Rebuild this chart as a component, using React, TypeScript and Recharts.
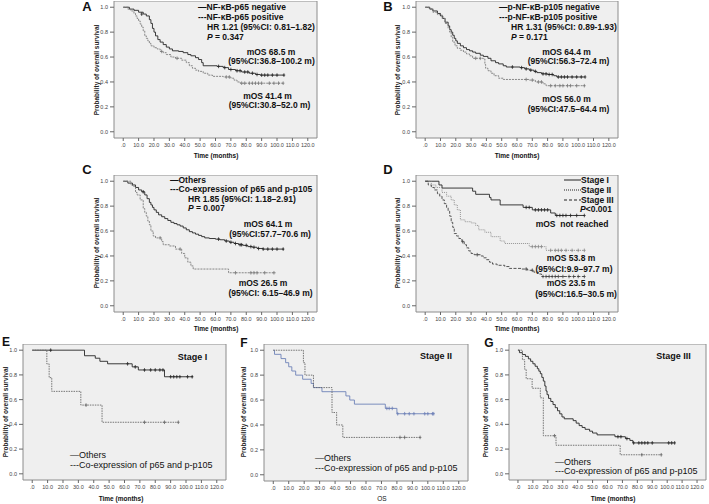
import React from 'react'
import { ComposedChart, Line, XAxis, YAxis, ReferenceArea } from 'recharts'

type Pt = [number, number]

const xTicks = [0, 10, 20, 30, 40, 50, 60, 70, 80, 90, 100, 110, 120]
const yTicks = [0, 0.2, 0.4, 0.6, 0.8, 1]

// A: NF-kB-p65 negative / positive
const aNeg: Pt[] = [[0, 1], [4, 0.985], [7, 0.975], [10, 0.96], [13, 0.945], [15, 0.93], [17, 0.9], [18, 0.87], [19, 0.83], [20, 0.8], [21, 0.77], [22.5, 0.74], [24, 0.72], [26, 0.7], [28, 0.68], [30, 0.665], [32, 0.65], [36, 0.645], [39, 0.635], [42, 0.62], [44, 0.61], [47, 0.595], [49, 0.58], [51, 0.555], [52, 0.53], [61, 0.525], [65, 0.515], [68.5, 0.5], [73, 0.49], [77, 0.48], [82, 0.47], [86, 0.46], [89, 0.455], [104.7, 0.455]]
const aNegCens: Pt[] = [[12, 0.945], [62, 0.525], [66, 0.515], [70, 0.5], [74, 0.49], [76, 0.49], [79, 0.48], [81, 0.48], [84, 0.47], [87, 0.46], [90, 0.455], [92, 0.455], [94, 0.455], [97, 0.455], [100, 0.455], [104.5, 0.455]]
const aPos: Pt[] = [[0, 1], [3, 0.985], [5, 0.97], [7, 0.95], [8, 0.93], [9, 0.91], [10, 0.89], [11, 0.865], [12, 0.84], [13, 0.81], [14, 0.77], [15, 0.75], [16, 0.73], [17, 0.71], [18, 0.69], [20, 0.675], [22, 0.665], [24, 0.645], [26, 0.635], [28, 0.62], [31, 0.6], [34, 0.59], [38, 0.575], [41, 0.555], [43, 0.53], [45, 0.51], [47, 0.495], [49, 0.485], [52, 0.47], [55, 0.455], [58, 0.445], [65, 0.44], [70, 0.43], [72, 0.415], [74, 0.4], [76, 0.39], [104.3, 0.39]]
const aPosCens: Pt[] = [[25, 0.645], [35, 0.59], [67, 0.44], [69, 0.44], [77, 0.39], [79, 0.39], [82, 0.39], [84, 0.39], [86, 0.39], [88, 0.39], [90, 0.39], [95, 0.39], [98, 0.39], [101, 0.39], [104, 0.39]]

// B: p-NF-kB-p105 negative / positive
const bNeg: Pt[] = [[0, 1], [3, 0.985], [5, 0.97], [8, 0.95], [10, 0.93], [11.5, 0.91], [13, 0.88], [15, 0.85], [16, 0.82], [17, 0.8], [18, 0.775], [19, 0.75], [20, 0.73], [21, 0.71], [23, 0.69], [25, 0.675], [27, 0.66], [29, 0.65], [31, 0.64], [33, 0.63], [36, 0.615], [38, 0.605], [41, 0.59], [43, 0.57], [46, 0.555], [48, 0.545], [51, 0.53], [53, 0.52], [62, 0.515], [65, 0.505], [68, 0.495], [71, 0.485], [73, 0.475], [76, 0.465], [80, 0.46], [84, 0.45], [86, 0.44], [104.5, 0.44]]
const bNegCens: Pt[] = [[57, 0.52], [63, 0.515], [66, 0.505], [69, 0.495], [72, 0.485], [77, 0.465], [79, 0.465], [81, 0.46], [83, 0.46], [87, 0.44], [89, 0.44], [91, 0.44], [93, 0.44], [96, 0.44], [99, 0.44], [102, 0.44], [104.5, 0.44]]
const bPos: Pt[] = [[0, 1], [2.5, 0.99], [5, 0.96], [8, 0.94], [11, 0.91], [13, 0.87], [15, 0.83], [16, 0.8], [17, 0.76], [18, 0.72], [19.5, 0.69], [21, 0.67], [23, 0.655], [25, 0.64], [27, 0.625], [29, 0.61], [31, 0.59], [38, 0.585], [39, 0.54], [39.5, 0.51], [41, 0.49], [43, 0.47], [45, 0.45], [48, 0.43], [51, 0.42], [68, 0.415], [72, 0.4], [77, 0.385], [79, 0.37], [104.5, 0.37]]
const bPosCens: Pt[] = [[33, 0.59], [36, 0.59], [66, 0.42], [70, 0.415], [74, 0.4], [76, 0.4], [82, 0.37], [85, 0.37], [88, 0.37], [90, 0.37], [93, 0.37], [95, 0.37], [99, 0.37], [104, 0.37]]

// C: others / co-expression
const cOth: Pt[] = [[0, 1], [3, 0.985], [6, 0.97], [8, 0.95], [10, 0.93], [12, 0.915], [14, 0.89], [15.5, 0.86], [17, 0.83], [18, 0.81], [19, 0.79], [20, 0.77], [21.5, 0.75], [23, 0.73], [25, 0.715], [27, 0.7], [29, 0.685], [31, 0.67], [33, 0.66], [35, 0.65], [37, 0.64], [39, 0.625], [41, 0.61], [43, 0.595], [45, 0.585], [47, 0.575], [49, 0.565], [51, 0.555], [53, 0.545], [56, 0.54], [60, 0.535], [63, 0.53], [66, 0.52], [69, 0.51], [72, 0.5], [75, 0.49], [78, 0.485], [81, 0.475], [84, 0.47], [87, 0.46], [91, 0.455], [104.5, 0.455]]
const cOthCens: Pt[] = [[13, 0.915], [62, 0.535], [67, 0.52], [70, 0.51], [73, 0.5], [76, 0.49], [77, 0.49], [80, 0.485], [83, 0.475], [85, 0.47], [88, 0.46], [91, 0.455], [94, 0.455], [97, 0.455], [100, 0.455], [104, 0.455]]
const cCo: Pt[] = [[0, 1], [5, 0.97], [6, 0.96], [8, 0.91], [9, 0.89], [11, 0.85], [13, 0.78], [14, 0.75], [15, 0.72], [16, 0.68], [17, 0.65], [18, 0.6], [19.5, 0.56], [21, 0.545], [25, 0.515], [26, 0.49], [30, 0.48], [34, 0.455], [38, 0.42], [40, 0.385], [42, 0.35], [44, 0.32], [45.5, 0.295], [68.5, 0.265], [99, 0.265]]
const cCoCens: Pt[] = [[24, 0.545], [37, 0.455], [73, 0.265], [83, 0.265], [85, 0.265], [87, 0.265], [92, 0.265], [98, 0.265]]

// D: stage I / II / III
const dI: Pt[] = [[0, 1], [9, 0.97], [11, 0.945], [31, 0.92], [33, 0.895], [42, 0.87], [43, 0.85], [49, 0.81], [64, 0.79], [70, 0.77], [82, 0.745], [85, 0.725], [104, 0.725]]
const dICens: Pt[] = [[66, 0.79], [68, 0.79], [72, 0.77], [74, 0.77], [76, 0.77], [78, 0.77], [80, 0.77], [86, 0.725], [88, 0.725], [90, 0.725], [92, 0.725], [95, 0.725], [99, 0.725], [104, 0.725]]
const dII: Pt[] = [[0, 1], [4, 0.97], [7, 0.95], [11, 0.91], [14, 0.88], [17, 0.85], [19, 0.81], [21, 0.77], [23, 0.69], [26, 0.675], [30, 0.665], [33, 0.645], [35, 0.61], [39, 0.59], [43, 0.555], [49, 0.52], [52, 0.5], [68, 0.475], [79, 0.445], [104, 0.445]]
const dIICens: Pt[] = [[70, 0.475], [72, 0.475], [74, 0.475], [76, 0.475], [82, 0.445], [85, 0.445], [87, 0.445], [89, 0.445], [92, 0.445], [96, 0.445], [100, 0.445], [104, 0.445]]
const dIII: Pt[] = [[0, 1], [2, 0.97], [4, 0.95], [6, 0.93], [8, 0.9], [9.5, 0.88], [11, 0.85], [12.5, 0.82], [14, 0.79], [15, 0.76], [16, 0.72], [17, 0.67], [18, 0.63], [19, 0.58], [20.5, 0.56], [22, 0.54], [24, 0.515], [25.5, 0.49], [27, 0.465], [28.5, 0.44], [30, 0.42], [32, 0.41], [36, 0.4], [38, 0.385], [40, 0.37], [42, 0.35], [44, 0.335], [47, 0.325], [52, 0.315], [55, 0.3], [63, 0.295], [67, 0.285], [71, 0.27], [74, 0.255], [76, 0.235], [104, 0.235]]
const dIIICens: Pt[] = [[24.5, 0.515], [34, 0.41], [66, 0.295], [70, 0.285], [77, 0.235], [79, 0.235], [81, 0.235], [83, 0.235], [85, 0.235], [87, 0.235], [90, 0.235], [94, 0.235], [97, 0.235], [100, 0.235], [104, 0.235]]

// E: stage I, others / co-expression
const eOth: Pt[] = [[0, 1], [34, 0.955], [41, 0.935], [44, 0.91], [49, 0.89], [65, 0.865], [69, 0.84], [86, 0.785], [104.5, 0.785]]
const eOthCens: Pt[] = [[12, 1], [62, 0.89], [67, 0.865], [73, 0.84], [77, 0.84], [80, 0.84], [83, 0.84], [85, 0.84], [90, 0.785], [92, 0.785], [94, 0.785], [96, 0.785], [101, 0.785], [104, 0.785]]
const eCo: Pt[] = [[0, 1], [9.5, 0.889], [11, 0.778], [12.7, 0.667], [31.6, 0.556], [45.4, 0.417], [95, 0.417]]
const eCoCens: Pt[] = [[35, 0.556], [73, 0.417], [86, 0.417], [95, 0.417]]

// F: stage II
const fOth: Pt[] = [[0, 1], [0.8, 0.967], [5, 0.933], [8, 0.9], [10, 0.867], [12, 0.833], [14.5, 0.8], [19, 0.767], [24.5, 0.733], [26, 0.7], [31.5, 0.667], [47, 0.633], [49.5, 0.6], [52.5, 0.567], [72.5, 0.533], [80, 0.49], [103.8, 0.49]]
const fOthCens: Pt[] = [[73.5, 0.533], [75, 0.533], [77, 0.533], [80.5, 0.49], [85, 0.49], [88, 0.49], [91, 0.49], [98, 0.49], [100, 0.49], [103, 0.49], [103.8, 0.49]]
const fCo: Pt[] = [[0, 1], [19.5, 0.9], [20.5, 0.8], [26, 0.7], [38, 0.5], [41, 0.4], [45, 0.3], [95, 0.3]]
const fCoCens: Pt[] = [[82, 0.3], [85, 0.3], [95, 0.3]]

// G: stage III
const gOth: Pt[] = [[0, 1], [1, 0.98], [3, 0.965], [5, 0.95], [7, 0.93], [8.5, 0.91], [10, 0.89], [11.5, 0.87], [13, 0.85], [14, 0.83], [15, 0.81], [16, 0.78], [17, 0.75], [18, 0.71], [18.8, 0.67], [19.5, 0.64], [20.5, 0.61], [22, 0.585], [23.5, 0.56], [25, 0.535], [26.5, 0.51], [28, 0.485], [29.5, 0.46], [31, 0.445], [37, 0.43], [39, 0.41], [41, 0.39], [43, 0.375], [45, 0.36], [48, 0.345], [50, 0.33], [53, 0.315], [65, 0.3], [72, 0.285], [75, 0.27], [77, 0.25], [105, 0.25]]
const gOthCens: Pt[] = [[67, 0.3], [69, 0.3], [73, 0.285], [77.5, 0.25], [81, 0.25], [83, 0.25], [85, 0.25], [87, 0.25], [90, 0.25], [101, 0.25], [103, 0.25], [105, 0.25]]
const gCo: Pt[] = [[0, 1], [3, 0.923], [4.5, 0.846], [5.5, 0.769], [9.5, 0.692], [15, 0.615], [17, 0.308], [25.5, 0.231], [68.5, 0.154], [96, 0.154]]
const gCoCens: Pt[] = [[24.5, 0.308], [83, 0.154], [96, 0.154]]

const FONT = '"Liberation Sans", Arial, sans-serif'
const YW = 16
const XH = 14
const X_DOMAIN: [number, number] = [-6, 126]
const Y_DOMAIN: [number, number] = [-0.05, 1.05]

const SOLID = '#262626'
const GREY = '#7a7a7a'

type Frame = { l: number; t: number; r: number; b: number }
type Curve = { steps: Pt[]; cens: Pt[]; color: string; dash?: string }

const rows = (pts: Pt[]) => pts.map(([t, s]) => ({ t, s }))
const fmtX = (v: number) => (v === 0 ? '.0' : v.toFixed(1))

function plusDot(color: string) {
  return (p: any) => {
    const { cx, cy, index } = p
    if (cx == null || cy == null) return <g key={index} />
    return <path key={index} d={`M${cx - 1.3},${cy}h2.6M${cx},${cy - 1.8}v3.6`} stroke={color} strokeWidth={0.8} fill="none" />
  }
}

function KmPanel({ frame, curves }: { frame: Frame; curves: Curve[] }) {
  const w = frame.r - frame.l
  const h = frame.b - frame.t
  return (
    <div style={{ position: 'absolute', left: frame.l - YW, top: frame.t }}>
      <ComposedChart width={w + YW + 2} height={h + XH} margin={{ top: 0, right: 2, bottom: 0, left: 0 }}>
        <XAxis
          type="number"
          dataKey="t"
          domain={X_DOMAIN}
          ticks={xTicks}
          interval={0}
          allowDataOverflow
          tickFormatter={fmtX}
          axisLine={false}
          tickSize={3}
          tickMargin={2}
          height={XH}
          tick={{ fontSize: 5.5, fill: '#444', fontFamily: FONT }}
          tickLine={{ stroke: '#666' }}
        />
        <YAxis
          type="number"
          domain={Y_DOMAIN}
          ticks={yTicks}
          interval={0}
          allowDataOverflow
          tickFormatter={(v: number) => v.toFixed(1)}
          axisLine={false}
          tickSize={4}
          tickMargin={2}
          width={YW}
          tick={{ fontSize: 5.5, fill: '#444', fontFamily: FONT }}
          tickLine={{ stroke: '#666' }}
        />
        <ReferenceArea x1={X_DOMAIN[0]} x2={X_DOMAIN[1]} y1={Y_DOMAIN[0]} y2={Y_DOMAIN[1]} fill="#efefef" fillOpacity={1} stroke="#8c8c8c" strokeWidth={1} />
        {curves.map((c, i) => (
          <Line
            key={'s' + i}
            data={rows(c.steps)}
            dataKey="s"
            type="stepAfter"
            stroke={c.color}
            strokeWidth={0.9}
            strokeDasharray={c.dash}
            dot={false}
            activeDot={false}
            isAnimationActive={false}
          />
        ))}
        {curves.map((c, i) => (
          <Line
            key={'c' + i}
            data={rows(c.cens)}
            dataKey="s"
            stroke="none"
            dot={plusDot(c.color)}
            activeDot={false}
            isAnimationActive={false}
          />
        ))}
      </ComposedChart>
    </div>
  )
}

function Txt({ x, y, size = 8.5, align = 'left', weight = 700, children }: any) {
  const tx = align === 'center' ? '-50%' : align === 'right' ? '-100%' : '0'
  return (
    <div style={{ position: 'absolute', left: x, top: y, transform: `translate(${tx}, -50%)`, fontSize: size, lineHeight: 1, fontWeight: weight, whiteSpace: 'nowrap', color: '#111' }}>
      {children}
    </div>
  )
}

function YTitle({ x, y }: { x: number; y: number }) {
  return (
    <div style={{ position: 'absolute', left: x, top: y, transform: 'translate(-50%, -50%) rotate(-90deg)', fontSize: 6.5, fontWeight: 700, whiteSpace: 'nowrap', color: '#222' }}>
      Probability of overall survival
    </div>
  )
}

function Sample({ x, y, dash }: { x: number; y: number; dash?: string }) {
  return (
    <svg style={{ position: 'absolute', left: x, top: y - 2 }} width={17} height={4}>
      <line x1={0} y1={2} x2={17} y2={2} stroke="#222" strokeWidth={1} strokeDasharray={dash} />
    </svg>
  )
}

const frA: Frame = { l: 114, t: 1, r: 317, b: 138 }
const frB: Frame = { l: 416, t: 1, r: 618, b: 138 }
const frC: Frame = { l: 114, t: 175, r: 317, b: 312 }
const frD: Frame = { l: 416, t: 175, r: 618, b: 312 }
const frE: Frame = { l: 23, t: 344, r: 226, b: 480 }
const frF: Frame = { l: 264, t: 344, r: 468, b: 481 }
const frG: Frame = { l: 509, t: 344, r: 706, b: 480 }

export default function App() {
  const dashed = '2 1'
  return (
    <div style={{ position: 'absolute', left: 0, top: 0, width: 709, height: 504, background: '#fff', fontFamily: FONT, overflow: 'hidden' }}>
      <KmPanel frame={frA} curves={[
        { steps: aNeg, cens: aNegCens, color: SOLID },
        { steps: aPos, cens: aPosCens, color: GREY, dash: dashed },
      ]} />
      <KmPanel frame={frB} curves={[
        { steps: bNeg, cens: bNegCens, color: SOLID },
        { steps: bPos, cens: bPosCens, color: GREY, dash: dashed },
      ]} />
      <KmPanel frame={frC} curves={[
        { steps: cOth, cens: cOthCens, color: SOLID },
        { steps: cCo, cens: cCoCens, color: GREY, dash: dashed },
      ]} />
      <KmPanel frame={frD} curves={[
        { steps: dI, cens: dICens, color: SOLID },
        { steps: dII, cens: dIICens, color: '#8a8a8a', dash: '1 1' },
        { steps: dIII, cens: dIIICens, color: '#444', dash: '3 1.5' },
      ]} />
      <KmPanel frame={frE} curves={[
        { steps: eOth, cens: eOthCens, color: SOLID },
        { steps: eCo, cens: eCoCens, color: '#666', dash: '1.5 1' },
      ]} />
      <KmPanel frame={frF} curves={[
        { steps: fOth, cens: fOthCens, color: '#6e82b8' },
        { steps: fCo, cens: fCoCens, color: '#666', dash: '1.5 1' },
      ]} />
      <KmPanel frame={frG} curves={[
        { steps: gOth, cens: gOthCens, color: SOLID },
        { steps: gCo, cens: gCoCens, color: '#666', dash: '1.5 1' },
      ]} />

      {/* panel letters */}
      <Txt x={87} y={6} size={13} align="center">A</Txt>
      <Txt x={388} y={6} size={13} align="center">B</Txt>
      <Txt x={87} y={169} size={13} align="center">C</Txt>
      <Txt x={388} y={169} size={13} align="center">D</Txt>
      <Txt x={6} y={342} size={12} align="center">E</Txt>
      <Txt x={244} y={343} size={12} align="center">F</Txt>
      <Txt x={489} y={343} size={12} align="center">G</Txt>

      {/* axis titles */}
      <Txt x={216} y={156} size={6.5} align="center">Time (months)</Txt>
      <Txt x={517} y={156} size={6.5} align="center">Time (months)</Txt>
      <Txt x={216} y={329} size={6.5} align="center">Time (months)</Txt>
      <Txt x={517} y={329} size={6.5} align="center">Time (months)</Txt>
      <Txt x={121} y={499} size={6.5} align="center">Time (months)</Txt>
      <Txt x={382} y={499} size={6.5} align="center" weight={400}>OS</Txt>
      <Txt x={613} y={499} size={6.5} align="center">Time (months)</Txt>
      <YTitle x={96} y={70} />
      <YTitle x={397} y={70} />
      <YTitle x={96} y={243} />
      <YTitle x={397} y={243} />
      <YTitle x={5} y={412} />
      <YTitle x={243} y={412} />
      <YTitle x={485} y={412} />

      {/* A */}
      <Txt x={198} y={7}>—NF-κB-p65 negative</Txt>
      <Txt x={198} y={17}>---NF-κB-p65 positive</Txt>
      <Txt x={207} y={27}>HR 1.21 (95%CI: 0.81–1.82)</Txt>
      <Txt x={207} y={37}><i>P</i> = 0.347</Txt>
      <Txt x={271} y={52} align="center">mOS 68.5 m</Txt>
      <Txt x={271.5} y={61} align="center">(95%CI:36.8–100.2 m)</Txt>
      <Txt x={267.5} y={96} align="center">mOS 41.4 m</Txt>
      <Txt x={269.5} y={105} align="center">(95%CI:30.8–52.0 m)</Txt>

      {/* B */}
      <Txt x={499} y={7}>—p-NF-κB-p105 negative</Txt>
      <Txt x={499} y={17}>---p-NF-κB-p105 positive</Txt>
      <Txt x={511} y={27}>HR 1.31 (95%CI: 0.89-1.93)</Txt>
      <Txt x={511} y={37}><i>P</i> = 0.171</Txt>
      <Txt x={566.5} y={52} align="center">mOS 64.4 m</Txt>
      <Txt x={568.5} y={61} align="center">(95%CI:56.3–72.4 m)</Txt>
      <Txt x={566.5} y={99} align="center">mOS 56.0 m</Txt>
      <Txt x={568.5} y={109} align="center">(95%CI:47.5–64.4 m)</Txt>

      {/* C */}
      <Txt x={170} y={180}>—Others</Txt>
      <Txt x={170} y={189}>---Co-expression of p65 and p-p105</Txt>
      <Txt x={188} y={199}>HR 1.85 (95%CI: 1.18–2.91)</Txt>
      <Txt x={188} y={208}><i>P</i> = 0.007</Txt>
      <Txt x={268} y={224} align="center">mOS 64.1 m</Txt>
      <Txt x={270} y={234} align="center">(95%CI:57.7–70.6 m)</Txt>
      <Txt x={263} y={283} align="center">mOS 26.5 m</Txt>
      <Txt x={270.5} y={293} align="center">(95%CI: 6.15–46.9 m)</Txt>

      {/* D */}
      <Sample x={564} y={180} />
      <Txt x={581} y={180}>Stage I</Txt>
      <Sample x={564} y={190} dash="1 1" />
      <Txt x={581} y={190}>Stage II</Txt>
      <Sample x={564} y={200} dash="3 2" />
      <Txt x={581} y={200}>Stage III</Txt>
      <Txt x={612} y={209} align="right"><i>P</i>&lt;0.001</Txt>
      <Txt x={572} y={224} align="center">mOS&nbsp; not reached</Txt>
      <Txt x={571} y={258} align="center">mOS 53.8 m</Txt>
      <Txt x={574} y={269} align="center">(95%CI:9.9–97.7 m)</Txt>
      <Txt x={571} y={283} align="center">mOS 23.5 m</Txt>
      <Txt x={576} y={294} align="center">(95%CI:16.5–30.5 m)</Txt>

      {/* E */}
      <Txt x={192.5} y={357} size={9} align="center">Stage I</Txt>
      <Txt x={70} y={455} size={9} weight={400}>—Others</Txt>
      <Txt x={70} y={465} size={9} weight={400}>---Co-expression of p65 and p-p105</Txt>

      {/* F */}
      <Txt x={436} y={356} size={9} align="center">Stage II</Txt>
      <Txt x={315} y={458} size={9} weight={400}>—Others</Txt>
      <Txt x={315} y={468} size={9} weight={400}>---Co-expression of p65 and p-p105</Txt>

      {/* G */}
      <Txt x={673.5} y={356} size={9} align="center">Stage III</Txt>
      <Txt x={555} y={462} size={9} weight={400}>—Others</Txt>
      <Txt x={555} y={471} size={9} weight={400}>---Co-expression of p65 and p-p105</Txt>
    </div>
  )
}
